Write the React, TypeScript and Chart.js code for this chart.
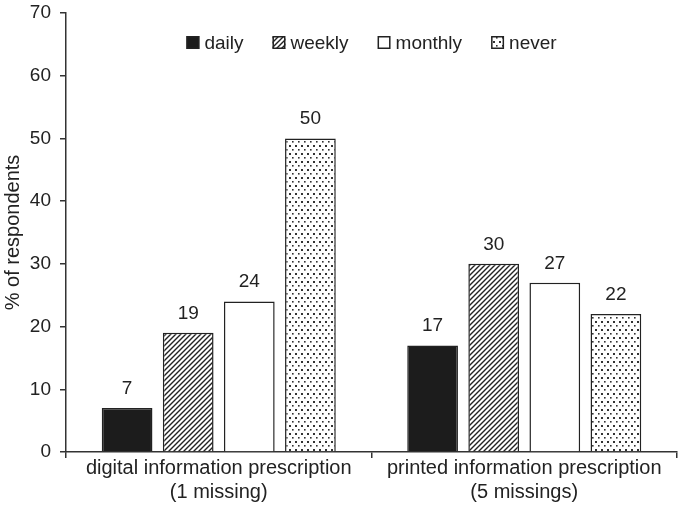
import React, { useEffect, useRef } from "react";
import { Chart, registerables } from "chart.js";

Chart.register(...registerables);

const categories: string[][] = [
  ["digital information prescription", "(1 missing)"],
  ["printed information prescription", "(5 missings)"],
];
const seriesNames = ["daily", "weekly", "monthly", "never"];
const daily = [7, 17];
const weekly = [19, 30];
const monthly = [24, 27];
const never = [50, 22];
const yTicks = [0, 10, 20, 30, 40, 50, 60, 70];

const FONT = "'Liberation Sans', Arial, sans-serif";
const INK = "#222";

function makeHatch(): CanvasPattern | string {
  const s = 5;
  const c = document.createElement("canvas");
  c.width = s;
  c.height = s;
  const x = c.getContext("2d");
  if (!x) return "#fff";
  x.fillStyle = "#fff";
  x.fillRect(0, 0, s, s);
  x.strokeStyle = "#222";
  x.lineWidth = 1.4;
  x.beginPath();
  x.moveTo(0, s);
  x.lineTo(s, 0);
  x.moveTo(-1, 1);
  x.lineTo(1, -1);
  x.moveTo(s - 1, s + 1);
  x.lineTo(s + 1, s - 1);
  x.stroke();
  return x.createPattern(c, "repeat") || "#fff";
}

function makeDots(): CanvasPattern | string {
  const c = document.createElement("canvas");
  c.width = 6;
  c.height = 8;
  const x = c.getContext("2d");
  if (!x) return "#fff";
  x.fillStyle = "#fff";
  x.fillRect(0, 0, 6, 8);
  x.fillStyle = "#333";
  x.fillRect(1, 1, 2, 2);
  x.fillRect(4, 5, 1.6, 1.6);
  return x.createPattern(c, "repeat") || "#fff";
}

export default function App() {
  const ref = useRef<HTMLCanvasElement | null>(null);

  useEffect(() => {
    const canvas = ref.current;
    if (!canvas) return;
    const fills = ["#1c1c1c", makeHatch(), "#ffffff", makeDots()];
    const values = [daily, weekly, monthly, never];

    const valueLabels = {
      id: "valueLabels",
      afterDatasetsDraw(chart: any) {
        const ctx = chart.ctx;
        ctx.save();
        ctx.font = `19px ${FONT}`;
        ctx.fillStyle = INK;
        ctx.textAlign = "center";
        ctx.textBaseline = "alphabetic";
        chart.data.datasets.forEach((ds: any, i: number) => {
          const meta = chart.getDatasetMeta(i);
          meta.data.forEach((bar: any, j: number) => {
            ctx.fillText(String(ds.data[j]), bar.x, bar.y - 14);
          });
        });
        ctx.restore();
      },
    };

    const legendPlugin = {
      id: "customLegend",
      afterDraw(chart: any) {
        const ctx = chart.ctx;
        const area = chart.chartArea;
        ctx.save();
        ctx.font = `19px ${FONT}`;
        const box = 13;
        const gap = 5;
        const spacing = 29;
        const widths = seriesNames.map((n) => box + gap + ctx.measureText(n).width);
        const total = widths.reduce((a, b) => a + b, 0) + spacing * (seriesNames.length - 1);
        let x = (area.left + area.right) / 2 - total / 2;
        const top = area.top + 23;
        seriesNames.forEach((n, i) => {
          ctx.fillStyle = fills[i] as any;
          ctx.fillRect(x, top, box, box);
          ctx.strokeStyle = INK;
          ctx.lineWidth = 1.5;
          ctx.strokeRect(x + 0.75, top + 0.75, box - 1.5, box - 1.5);
          ctx.fillStyle = INK;
          ctx.textAlign = "left";
          ctx.textBaseline = "alphabetic";
          ctx.fillText(n, x + box + gap, top + box);
          x += widths[i] + spacing;
        });
        ctx.restore();
      },
    };

    const chart = new Chart(canvas, {
      type: "bar",
      data: {
        labels: categories,
        datasets: seriesNames.map((name, i) => ({
          label: name,
          data: values[i],
          backgroundColor: fills[i] as any,
          borderColor: INK,
          borderWidth: 1.5,
          categoryPercentage: 0.8,
          barPercentage: 0.83,
        })),
      },
      options: {
        responsive: false,
        animation: false,
        layout: { padding: { left: 0, top: 13, right: 8, bottom: 0 } },
        plugins: {
          legend: { display: false },
          tooltip: { enabled: false },
        },
        scales: {
          x: {
            grid: {
              display: true,
              drawOnChartArea: false,
              drawTicks: true,
              tickLength: 6,
              color: "#333",
              lineWidth: 1.5,
              offset: true,
            },
            border: { display: true, color: "#333", width: 1.5 },
            ticks: {
              color: INK,
              font: { family: FONT, size: 20, lineHeight: 1.2 },
              padding: -2,
              maxRotation: 0,
            },
            afterFit(scale: any) {
              scale.height = 60;
              scale.paddingLeft = 0;
              scale.paddingRight = 0;
            },
          },
          y: {
            min: 0,
            max: 70,
            afterBuildTicks(scale: any) {
              scale.ticks = yTicks.map((v) => ({ value: v }));
            },
            grid: {
              display: true,
              drawOnChartArea: false,
              drawTicks: true,
              tickLength: 6,
              color: "#333",
              lineWidth: 1.5,
            },
            border: { display: true, color: "#333", width: 1.5 },
            ticks: {
              color: INK,
              font: { family: FONT, size: 19 },
              padding: 9,
            },
            title: {
              display: true,
              text: "% of respondents",
              color: INK,
              font: { family: FONT, size: 20 },
              padding: 1,
            },
            afterFit(scale: any) {
              scale.width = 66;
              scale.paddingTop = 0;
              scale.paddingBottom = 0;
            },
          },
        },
      },
      plugins: [valueLabels, legendPlugin],
    });
    return () => chart.destroy();
  }, []);

  return (
    <div style={{ position: "fixed", left: 0, top: 0, width: 685, height: 512, background: "#fff" }}>
      <canvas ref={ref} width={685} height={512} style={{ display: "block" }} />
    </div>
  );
}
